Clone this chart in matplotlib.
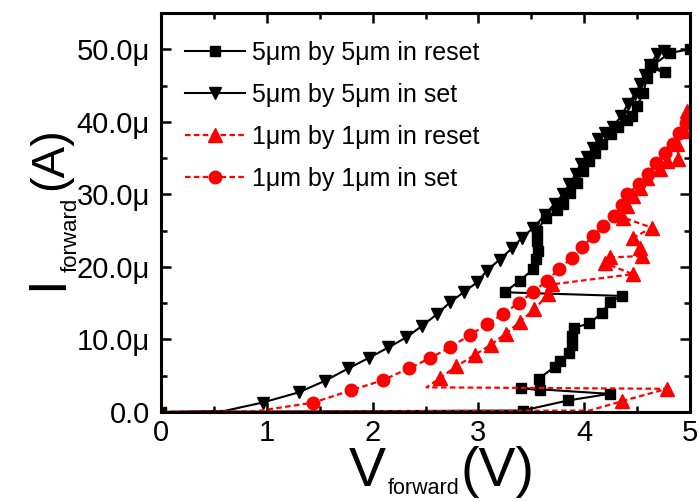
"""I-V forward curves, 5um and 1um cells, set and reset."""
import matplotlib
matplotlib.use("Agg")
import matplotlib.pyplot as plt
import numpy as np

# 5um by 5um, reset sweep (black squares)
v_5um_reset = [0.00, 3.42, 3.85, 4.24, 3.40, 3.58, 3.57, 3.72, 3.77, 3.86, 3.88,
               3.88, 3.90, 4.05, 4.17, 4.24, 4.36, 3.25, 3.39, 3.52, 3.54, 3.56,
               3.55, 3.55, 3.64, 3.74, 3.80, 3.87, 3.93, 3.99, 4.05, 4.10, 4.17,
               4.25, 4.32, 4.40, 4.45, 4.50, 4.56, 4.59, 4.64, 4.76, 4.62, 4.81, 5.00]
i_5um_reset = [0.0, 0.2, 1.6, 2.5, 3.3, 3.0, 4.6, 6.2, 7.0, 8.2, 9.3,
               10.5, 11.6, 12.2, 13.7, 15.2, 16.0, 16.5, 18.1, 19.7, 21.1, 22.2,
               23.6, 25.0, 26.8, 27.8, 28.7, 30.2, 31.6, 33.2, 34.6, 35.7, 37.0,
               38.3, 39.3, 40.2, 40.8, 42.2, 44.0, 46.0, 47.9, 46.8, 47.5, 49.5, 50.0]

# 5um by 5um, set sweep (black down triangles)
v_5um_set = [0.00, 0.60, 0.96, 1.30, 1.55, 1.77, 1.97, 2.15, 2.32, 2.47, 2.61,
             2.73, 2.86, 2.99, 3.08, 3.20, 3.32, 3.41, 3.52, 3.63, 3.72, 3.80,
             3.86, 3.92, 3.97, 4.03, 4.08, 4.13, 4.20, 4.27, 4.35, 4.41, 4.48,
             4.53, 4.57, 4.62, 4.69, 4.75]
i_5um_set = [0.0, 0.15, 1.3, 2.7, 4.3, 6.0, 7.5, 8.9, 10.3, 11.9, 13.5,
             15.1, 16.5, 17.9, 19.5, 21.0, 22.6, 24.0, 25.4, 27.2, 28.7, 30.0,
             31.4, 32.8, 34.2, 35.2, 36.4, 37.6, 38.4, 39.3, 40.8, 42.4, 43.8,
             45.2, 46.5, 47.9, 49.3, 49.8]

# 1um by 1um, reset sweep (red up triangles)
v_1um_reset = [0.00, 4.05, 4.36, 4.78, 2.51, 2.64, 2.79, 2.97, 3.12, 3.26, 3.39,
               3.53, 3.66, 3.70, 4.46, 4.20, 4.24, 4.55, 4.53, 4.46, 4.64, 4.37,
               4.40, 4.46, 4.53, 4.59, 4.72, 4.78, 4.89, 4.88, 4.94, 4.97]
i_1um_reset = [0.0, 0.2, 1.5, 3.2, 3.4, 4.7, 6.3, 7.9, 9.3, 10.8, 12.4,
               14.2, 16.2, 17.6, 19.0, 20.5, 21.3, 21.5, 22.6, 24.0, 25.4, 26.8,
               28.4, 29.8, 30.9, 32.3, 33.5, 34.6, 34.9, 36.9, 38.7, 41.5]

# 1um by 1um, set sweep (red circles)
v_1um_set = [0.00, 0.90, 1.44, 1.80, 2.10, 2.34, 2.54, 2.73, 2.92, 3.08, 3.23,
             3.38, 3.52, 3.65, 3.76, 3.88, 3.98, 4.08, 4.18, 4.28, 4.36, 4.40,
             4.52, 4.60, 4.68, 4.76, 4.84, 4.90, 4.96, 5.00]
i_1um_set = [0.0, 0.1, 1.3, 3.0, 4.4, 6.0, 7.4, 8.9, 10.6, 12.1, 13.5,
             15.0, 16.6, 18.1, 19.7, 21.2, 22.7, 24.2, 25.6, 27.0, 28.6, 30.0,
             31.4, 32.8, 34.3, 35.7, 37.0, 38.5, 39.9, 41.0]

labels = ["5\u03bcm by 5\u03bcm in reset", "5\u03bcm by 5\u03bcm in set",
          "1\u03bcm by 1\u03bcm in reset", "1\u03bcm by 1\u03bcm in set"]

x_ticks = [0, 1, 2, 3, 4, 5]
y_ticks = [0, 10e-6, 20e-6, 30e-6, 40e-6, 50e-6]
y_tick_labels = ["0.0", "10.0\u03bc", "20.0\u03bc", "30.0\u03bc", "40.0\u03bc", "50.0\u03bc"]

plt.rcParams["font.family"] = ["Liberation Sans", "DejaVu Sans"]

W, H = 699, 501
fig = plt.figure(figsize=(W / 100, H / 100), dpi=100)
ax = fig.add_axes([161 / W, 1 - 412 / H, 529 / W, 399 / H])

ua = 1e-6
red_dash = (0, (2.5, 1.5))

ax.plot(v_5um_reset, np.array(i_5um_reset) * ua, color="black", lw=1.5,
        marker="s", ms=7, label=labels[0])
ax.plot(v_5um_set, np.array(i_5um_set) * ua, color="black", lw=1.5,
        marker="v", ms=9, markevery=slice(2, None), label=labels[1])
n = len(v_1um_reset)
ax.plot(v_1um_reset, np.array(i_1um_reset) * ua, color="red", lw=1.6,
        ls=red_dash, marker="^", ms=9.5, markevery=[2, 3] + list(range(5, n)),
        label=labels[2])
ax.plot(v_1um_set, np.array(i_1um_set) * ua, color="red", lw=1.6,
        ls=red_dash, marker="o", ms=9, markevery=slice(2, None), label=labels[3])

ax.set_xlim(0, 5)
ax.set_ylim(0, 55e-6)
ax.set_xticks(x_ticks)
ax.set_xticklabels([str(t) for t in x_ticks])
ax.set_yticks(y_ticks)
ax.set_yticklabels(y_tick_labels)
ax.set_xticks(np.arange(0.5, 5, 1), minor=True)
ax.set_yticks(np.arange(5e-6, 55e-6, 10e-6), minor=True)
ax.tick_params(which="both", direction="in", top=True, right=True, width=1.8)
ax.tick_params(which="major", length=7, labelsize=21)
ax.tick_params(which="minor", length=4)
ax.tick_params(axis="y", pad=8)
ax.tick_params(axis="x", pad=5)
for sp in ax.spines.values():
    sp.set_linewidth(2.2)

leg = ax.legend(loc="upper left", bbox_to_anchor=(0.045, 0.93), frameon=False,
                fontsize=18, handlelength=2.4, handletextpad=0.28,
                labelspacing=0.72, borderpad=0, borderaxespad=0)

# axis labels with small subscripts, placed piece by piece
def ftext(x, y, s, **kw):
    fig.text(x / W, 1 - y / H, s, **kw)

ftext(349, 486, "V", fontsize=40)
ftext(388, 494, "forward", fontsize=15.5)
ftext(460, 486, "(V)", fontsize=40)

rot = dict(rotation=90, rotation_mode="anchor", ha="left", va="baseline")
ftext(62, 290, "I", fontsize=38, **rot)
ftext(77, 272, "forward", fontsize=16, **rot)
ftext(62, 190, "(A)", fontsize=34, **rot)

fig.savefig("out.png", dpi=100, facecolor="white")
